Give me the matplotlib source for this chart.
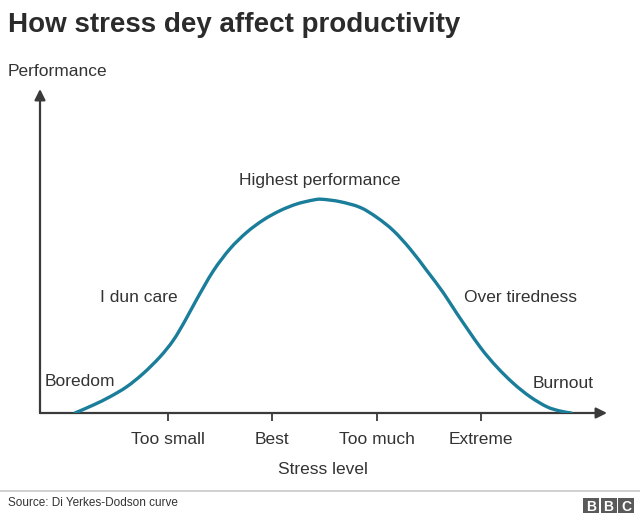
import matplotlib
matplotlib.use("Agg")
import matplotlib.pyplot as plt
from matplotlib.patches import Rectangle, PathPatch
from matplotlib.path import Path
from matplotlib.lines import Line2D

plt.rcParams['font.family'] = ['Liberation Sans', 'DejaVu Sans']

# ---- data ----
title = "How stress dey affect productivity"
y_label = "Performance"
x_label = "Stress level"
tick_positions = [1, 2, 3, 4]
tick_labels = ["Too small", "Best", "Too much", "Extreme"]
curve_x = [0.108, 0.284, 0.444, 0.604, 0.763, 0.923, 1.051, 1.163, 1.275, 1.434,
           1.594, 1.755, 1.914, 2.074, 2.234, 2.393, 2.477, 2.649, 2.841, 3.001,
           3.160, 3.320, 3.480, 3.640, 3.768, 3.991, 4.151, 4.311, 4.471,
           4.631, 4.758, 4.864]
curve_y = [0.0, 0.374, 0.762, 1.229, 1.855, 2.631, 3.411, 4.322, 5.327, 6.659,
           7.696, 8.472, 9.051, 9.486, 9.799, 9.986, 10.02, 9.907, 9.640, 9.173,
           8.551, 7.696, 6.682, 5.631, 4.673, 3.098, 2.164, 1.388, 0.762,
           0.294, 0.093, 0.0]
annotations = ["Boredom", "I dun care", "Highest performance", "Over tiredness", "Burnout"]
source = "Source: Di Yerkes-Dodson curve"

W, H = 640, 516
fig = plt.figure(figsize=(W / 100, H / 100), dpi=100)

def fx(px):
    return px / W

def fy(py):
    return 1 - py / H

text_c = '#333333'
axis_c = '#3a3a3a'
curve_c = '#1a7d9a'

# axes: origin at pixel (40, 413), x arrow tip 607, y arrow tip 89
ax = fig.add_axes([fx(40), fy(413), fx(607) - fx(40), fy(89) - fy(413)])
ax.set_xlim(-0.227, 5.208)
ax.set_ylim(0, 15.19)
for s in ax.spines.values():
    s.set_visible(False)
ax.set_yticks([])
ax.set_xticks(tick_positions)
ax.set_xticklabels(tick_labels, fontsize=12.5, color=text_c)
ax.tick_params(axis='x', direction='out', length=6, width=1.3, color=axis_c, pad=8)

arrow = dict(arrowstyle='-|>', color=axis_c, lw=1.6, mutation_scale=16,
             shrinkA=0, shrinkB=0)
ax.annotate('', xy=(1, 0), xytext=(0, 0), xycoords='axes fraction',
            textcoords='axes fraction', arrowprops=arrow)
ax.annotate('', xy=(0, 1), xytext=(0, 0), xycoords='axes fraction',
            textcoords='axes fraction', arrowprops=arrow)

# smooth curve through the read points (Catmull-Rom as cubic Bezier)
pts = list(zip(curve_x, curve_y))
n = len(pts)
verts = [pts[0]]
codes = [Path.MOVETO]
for i in range(n - 1):
    p0 = pts[i - 1] if i > 0 else pts[i]
    p1 = pts[i]
    p2 = pts[i + 1]
    p3 = pts[i + 2] if i + 2 < n else pts[i + 1]
    c1 = (p1[0] + (p2[0] - p0[0]) / 6, p1[1] + (p2[1] - p0[1]) / 6)
    c2 = (p2[0] - (p3[0] - p1[0]) / 6, p2[1] - (p3[1] - p1[1]) / 6)
    verts += [c1, c2, p2]
    codes += [Path.CURVE4] * 3
ax.add_patch(PathPatch(Path(verts, codes), facecolor='none', edgecolor=curve_c,
                       lw=2.4, capstyle='round', joinstyle='round', zorder=3))

# curve labels (pixel-positioned)
fs = 12.5
fig.text(fx(45), fy(382), annotations[0], fontsize=fs, color=text_c, va='center', ha='left')
fig.text(fx(100), fy(297), annotations[1], fontsize=fs, color=text_c, va='center', ha='left')
fig.text(fx(320), fy(181), annotations[2], fontsize=fs, color=text_c, va='center', ha='center')
fig.text(fx(464), fy(297), annotations[3], fontsize=fs, color=text_c, va='center', ha='left')
fig.text(fx(533), fy(383), annotations[4], fontsize=fs, color=text_c, va='center', ha='left')

fig.text(fx(323), fy(469), x_label, fontsize=fs, color=text_c, va='center', ha='center')
fig.text(fx(8), fy(72), y_label, fontsize=fs, color=text_c, va='center', ha='left')
fig.text(fx(8), fy(25), title, fontsize=20, fontweight='bold', color='#2b2b2b',
         va='center', ha='left')

# footer
fig.add_artist(Line2D([0, 1], [fy(491), fy(491)], color='#c8c8c8', lw=1.2,
                      transform=fig.transFigure))
fig.text(fx(8), fy(503), source, fontsize=8.5, color=text_c, va='center', ha='left')

for i, letter in enumerate("BBC"):
    x0 = 583 + i * 17.5
    fig.add_artist(Rectangle((fx(x0), fy(512.5)), fx(16), fy(498) - fy(512.5),
                             transform=fig.transFigure, facecolor='#5a5a5a',
                             edgecolor='none', zorder=1))
    fig.text(fx(x0 + 8), fy(505.5), letter, fontsize=10, fontweight='bold',
             color='white', ha='center', va='center_baseline', zorder=2)

fig.savefig('out.png', dpi=100, facecolor='white')
